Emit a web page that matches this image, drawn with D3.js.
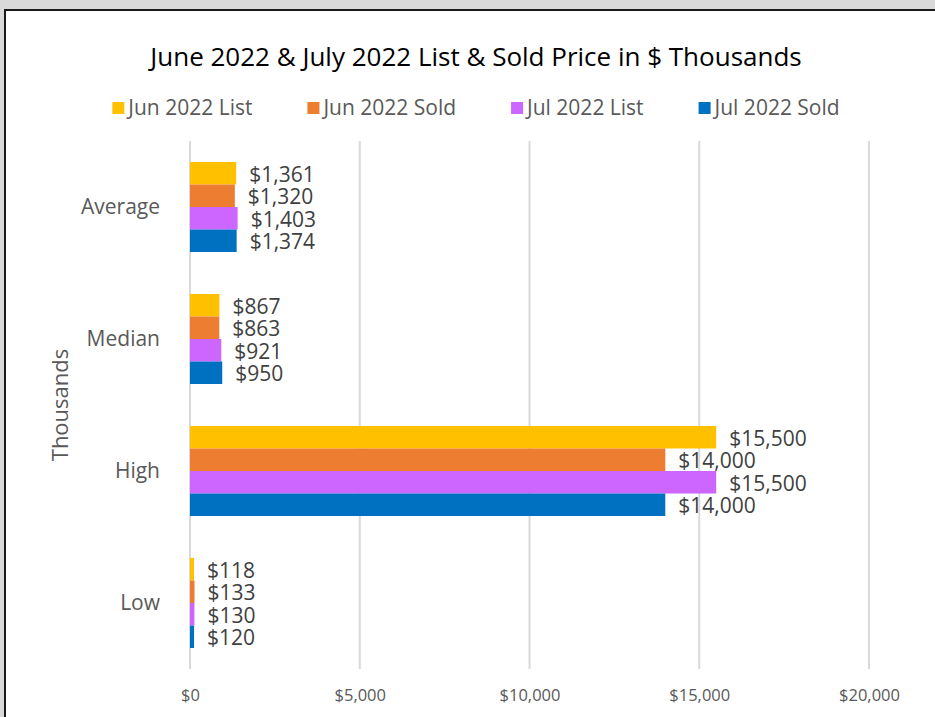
<!DOCTYPE html>
<html>
<head>
<meta charset="utf-8">
<script src="https://cdn.jsdelivr.net/npm/d3@7"></script>
<style>
  body { margin: 0; background: #d9d9d9; }
  svg { display: block; font-family: "Open Sans", sans-serif; }
</style>
</head>
<body>
<div id="chart"></div>
<script>
const width = 935;
const height = 717;

// chart data
const categories = ["Average", "Median", "High", "Low"];
const seriesNames = ["Jun 2022 List", "Jun 2022 Sold", "Jul 2022 List", "Jul 2022 Sold"];
const seriesColors = ["#FFC000", "#ED7D31", "#CC66FF", "#0070C0"];
const junList = [1361, 867, 15500, 118];
const junSold = [1320, 863, 14000, 133];
const julList = [1403, 921, 15500, 130];
const julSold = [1374, 950, 14000, 120];
const xTicks = [0, 5000, 10000, 15000, 20000];

const seriesValues = [junList, junSold, julList, julSold];

const svg = d3.select("#chart")
    .append("svg")
    .attr("width", width)
    .attr("height", height);

// white chart panel with dark border
svg.append("rect")
    .attr("x", 5).attr("y", 10)
    .attr("width", 960).attr("height", 740)
    .attr("fill", "#fff")
    .attr("stroke", "#1a1a1a")
    .attr("stroke-width", 2);

// scales
const x = d3.scaleLinear().domain([0, 20000]).range([190, 869]);
const y = d3.scaleBand().domain(categories).range([141, 669])
    .paddingInner(0.318).paddingOuter(0.159);
const ySub = d3.scaleBand().domain(seriesNames).range([0, y.bandwidth()]);

// gridlines
svg.append("g")
    .selectAll("line")
    .data(xTicks)
    .join("line")
    .attr("x1", d => x(d)).attr("x2", d => x(d))
    .attr("y1", 141).attr("y2", 669)
    .attr("stroke", "#d9d9d9")
    .attr("stroke-width", 2);

// x axis labels
const xAxis = d3.axisBottom(x)
    .tickValues(xTicks)
    .tickSize(0)
    .tickPadding(0)
    .tickFormat(d => "$" + d3.format(",")(d));

svg.append("g")
    .attr("transform", "translate(0,695)")
    .call(xAxis)
    .call(g => g.select(".domain").remove())
    .call(g => g.selectAll("text")
        .attr("dy", "0.35em")
        .attr("fill", "#595959")
        .style("font-size", "16.5px")
        .style("font-family", "'Open Sans', sans-serif"));

// y category labels
svg.append("g")
    .selectAll("text")
    .data(categories)
    .join("text")
    .attr("x", 160)
    .attr("y", d => y(d) + y.bandwidth() / 2)
    .attr("dy", "0.35em")
    .attr("text-anchor", "end")
    .attr("fill", "#595959")
    .style("font-size", "21px")
    .text(d => d);

// bars
const rows = [];
seriesNames.forEach((s, i) => {
    categories.forEach((c, j) => {
        rows.push({ series: s, cat: c, value: seriesValues[i][j], color: seriesColors[i] });
    });
});

svg.append("g")
    .selectAll("rect")
    .data(rows)
    .join("rect")
    .attr("x", x(0))
    .attr("y", d => y(d.cat) + ySub(d.series))
    .attr("width", d => x(d.value) - x(0))
    .attr("height", ySub.bandwidth())
    .attr("fill", d => d.color);

// data labels
svg.append("g")
    .selectAll("text")
    .data(rows)
    .join("text")
    .attr("x", d => x(d.value) + 13)
    .attr("y", d => y(d.cat) + ySub(d.series) + ySub.bandwidth() / 2 + 1)
    .attr("dy", "0.35em")
    .attr("fill", "#404040")
    .style("font-size", "21px")
    .text(d => "$" + d3.format(",")(d.value));

// title
svg.append("text")
    .attr("x", 476)
    .attr("y", 57)
    .attr("dy", "0.35em")
    .attr("text-anchor", "middle")
    .attr("fill", "#000")
    .style("font-size", "26px")
    .text("June 2022 & July 2022 List & Sold Price in $ Thousands");

// y axis title
svg.append("text")
    .attr("transform", "translate(60,405) rotate(-90)")
    .attr("dy", "0.35em")
    .attr("text-anchor", "middle")
    .attr("fill", "#595959")
    .style("font-size", "22px")
    .text("Thousands");

// legend
const legend = svg.append("g");
const items = legend.selectAll("g")
    .data(seriesNames)
    .join("g");

items.append("rect")
    .attr("width", 12).attr("height", 12)
    .attr("y", -6)
    .attr("fill", (d, i) => seriesColors[i]);

items.append("text")
    .attr("x", 16)
    .attr("dy", "0.35em")
    .attr("fill", "#595959")
    .style("font-size", "21px")
    .text(d => d);

const gap = 55;
let cursor = 0;
const offsets = [];
items.each(function() {
    offsets.push(cursor);
    const w = this.querySelector("text").getComputedTextLength();
    cursor += 16 + w + gap;
});
const totalW = cursor - gap;
items.attr("transform", (d, i) => `translate(${offsets[i]},0)`);
legend.attr("transform", `translate(${476 - totalW / 2},108)`);
</script>
</body>
</html>
